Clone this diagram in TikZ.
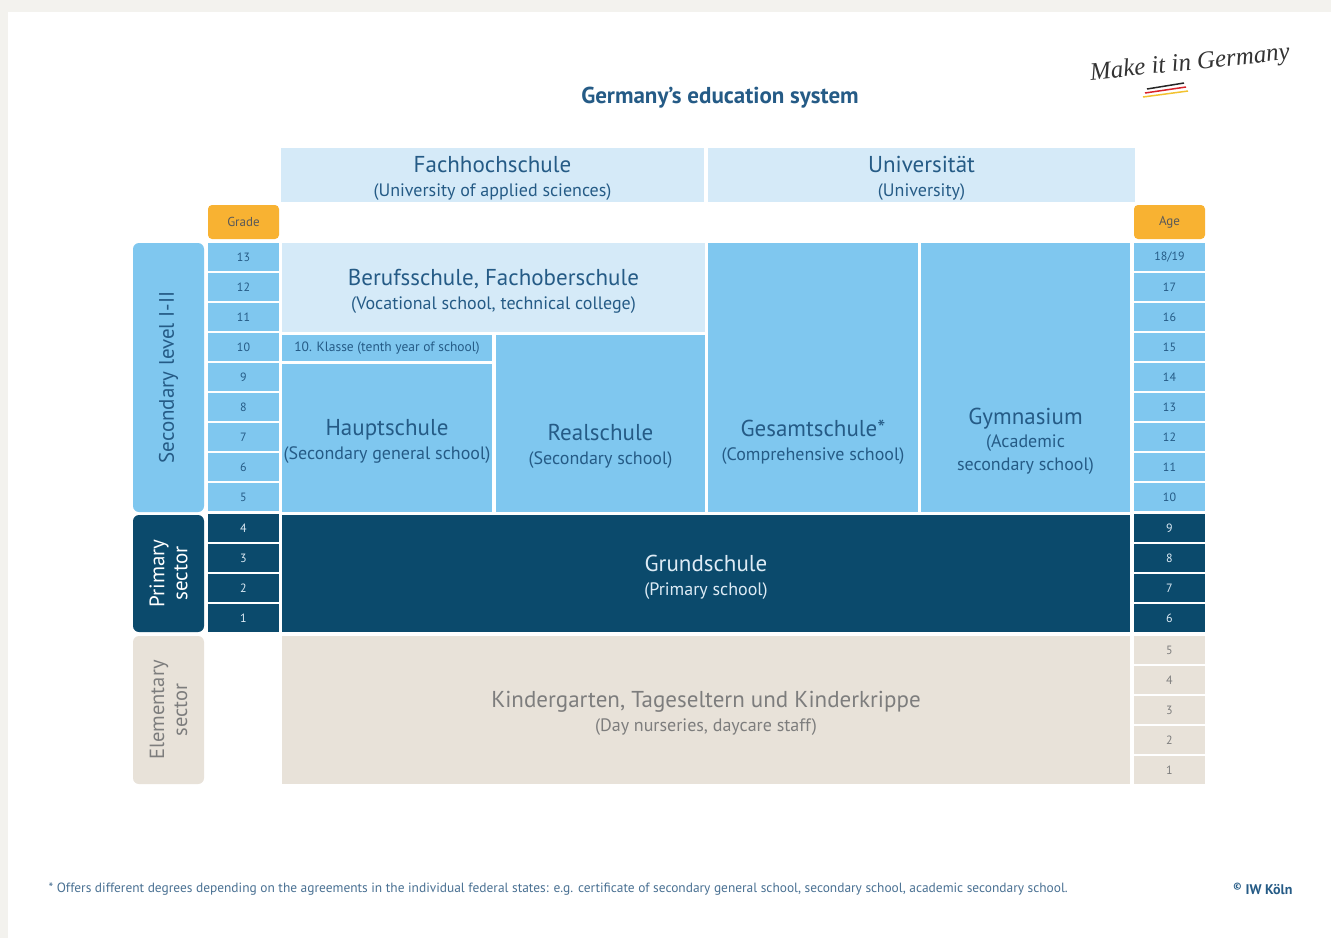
\documentclass[tikz,border=0pt]{standalone}
\usepackage{fontspec}
\setmainfont{PT Sans}
\newfontfamily\handfont{Liberation Serif}
\usepackage{tikz}

\definecolor{bandgray}{HTML}{F3F2EE}
\definecolor{palebox}{HTML}{D5EAF8}
\definecolor{midbox}{HTML}{7FC7EF}
\definecolor{darkbox}{HTML}{0B4A6C}
\definecolor{sandbox}{HTML}{E8E2D9}
\definecolor{headorange}{HTML}{F8B232}
\definecolor{inkblue}{HTML}{255B86}
\definecolor{inkgray}{HTML}{7D7D7D}
\definecolor{inklight}{HTML}{DDEBF5}
\definecolor{footblue}{HTML}{4A7193}
\definecolor{flagred}{HTML}{D8232A}
\definecolor{flaggold}{HTML}{F2C230}

\newcommand{\headtxt}{\fontsize{23}{25}\selectfont\rule{0pt}{23pt}}

\tikzset{
  block/.style={inner sep=0pt, align=center, text=inkblue, font=\fontsize{18}{24}\selectfont},
  cell/.style={minimum width=71pt, minimum height=28pt, inner sep=0pt, font=\fontsize{12}{14}\selectfont},
  seccell/.style={cell, fill=midbox, text=inkblue},
  primcell/.style={cell, fill=darkbox, text=inklight},
  elemcell/.style={cell, fill=sandbox, text=inkgray},
  headcell/.style={cell, fill=headorange, rounded corners=4pt, minimum height=34pt, text=black!65, font=\fontsize{13}{15}\selectfont},
  sector/.style={minimum width=71pt, inner sep=0pt, rounded corners=6pt, align=center}
}

\begin{document}
\begin{tikzpicture}[x=1pt,y=-1pt]

\useasboundingbox (0,0) rectangle (1331,938);
\fill[bandgray] (0,0) rectangle (1331,938);
\fill[white] (8,12) rectangle (1331,938);

%% title and logo
\node[font=\bfseries\fontsize{23}{25}\selectfont, text=inkblue] (title) at (720,98) {Germany's education system};
\node[font=\handfont\itshape\fontsize{25}{27}\selectfont, rotate=6, inner sep=0pt, text=black!80] (logo) at (1190,64) {Make~it~in~Germany};
\draw[line width=1.5pt, black!85] (1147,89) -- (1184,83);
\draw[line width=1.5pt, flagred] (1145,93) -- (1186,87);
\draw[line width=1.5pt, flaggold] (1143,97) -- (1188,91);

%% higher education
\node[block, fill=palebox, minimum width=423pt, minimum height=54pt] (fhs) at (492.5,175)
  {\headtxt Fachhochschule\\(University of applied sciences)};
\node[block, fill=palebox, minimum width=427pt, minimum height=54pt] (uni) at (921.5,175)
  {\headtxt Universität\\(University)};

%% column heads
\node[headcell] (grade) at (243.5,222) {Grade};
\node[headcell] (age) at (1169.5,222) {Age};

%% sectors
\node[sector, fill=midbox, minimum height=269pt] (secondary) at (168.5,377.5) {};
\node[sector, fill=darkbox, minimum height=117pt] (primary) at (168.5,573.5) {};
\node[sector, fill=sandbox, minimum height=148pt] (elementary) at (168.5,710) {};
\node[rotate=90, text=inkblue, font=\fontsize{21}{23}\selectfont] at (secondary) {Secondary level I-II};
\node[rotate=90, text=white, align=center, font=\fontsize{21}{23}\selectfont] at (primary) {Primary\\sector};
\node[rotate=90, text=inkgray, align=center, font=\fontsize{20.5}{23}\selectfont] at (elementary) {Elementary\\sector};

%% grades
\node[seccell] (g13) at (243.5,257) {13};
\node[seccell] (g12) at (243.5,287) {12};
\node[seccell] (g11) at (243.5,317) {11};
\node[seccell] (g10) at (243.5,347) {10};
\node[seccell] (g9) at (243.5,377) {9};
\node[seccell] (g8) at (243.5,407) {8};
\node[seccell] (g7) at (243.5,437) {7};
\node[seccell] (g6) at (243.5,467) {6};
\node[seccell] (g5) at (243.5,497) {5};
\node[primcell] (g4) at (243.5,528) {4};
\node[primcell] (g3) at (243.5,558) {3};
\node[primcell] (g2) at (243.5,588) {2};
\node[primcell] (g1) at (243.5,618) {1};

%% ages
\node[seccell] (a19) at (1169.5,257) {18/19};
\node[seccell] (a17) at (1169.5,287) {17};
\node[seccell] (a16) at (1169.5,317) {16};
\node[seccell] (a15) at (1169.5,347) {15};
\node[seccell] (a14) at (1169.5,377) {14};
\node[seccell] (a13) at (1169.5,407) {13};
\node[seccell] (a12) at (1169.5,437) {12};
\node[seccell] (a11) at (1169.5,467) {11};
\node[seccell] (a10) at (1169.5,497) {10};
\node[primcell] (a9) at (1169.5,528) {9};
\node[primcell] (a8) at (1169.5,558) {8};
\node[primcell] (a7) at (1169.5,588) {7};
\node[primcell] (a6) at (1169.5,618) {6};
\node[elemcell] (a5) at (1169.5,650) {5};
\node[elemcell] (a4) at (1169.5,680) {4};
\node[elemcell] (a3) at (1169.5,710) {3};
\node[elemcell] (a2) at (1169.5,740) {2};
\node[elemcell] (a1) at (1169.5,770) {1};

%% schools
\node[block, fill=palebox, minimum width=423pt, minimum height=89pt] (beruf) at (493.5,287.5)
  {\headtxt Berufsschule, Fachoberschule\\(Vocational school, technical college)};
\node[block, fill=midbox, minimum width=210pt, minimum height=26pt, font=\fontsize{13.5}{15}\selectfont] (klasse) at (387,348)
  {10. Klasse (tenth year of school)};
\node[block, fill=midbox, minimum width=210pt, minimum height=148pt] (haupt) at (387,438)
  {\headtxt Hauptschule\\(Secondary general school)};
\node[block, fill=midbox, minimum width=209pt, minimum height=177pt] (real) at (600.5,423.5) {};
\node[block, fill=midbox, minimum width=210pt, minimum height=269pt] (gesamt) at (813,377.5) {};
\node[block, fill=midbox, minimum width=209pt, minimum height=269pt] (gym) at (1025.5,377.5) {};
\node[block] (real-t) at (600.5,443) {\headtxt Realschule\\(Secondary school)};
\node[block] (gesamt-t) at (813,439) {\headtxt Gesamtschule*\\(Comprehensive school)};
\node[block, font=\fontsize{18}{23}\selectfont] (gym-t) at (1025.5,438) {\headtxt Gymnasium\\(Academic\\secondary school)};
\node[block, fill=darkbox, text=inklight, minimum width=848pt, minimum height=117pt] (grund) at (706,573.5)
  {\headtxt Grundschule\\(Primary school)};
\node[block, fill=sandbox, text=inkgray, minimum width=848pt, minimum height=148pt] (kinder) at (706,710)
  {\headtxt Kindergarten, Tageseltern und Kinderkrippe\\(Day nurseries, daycare staff)};

%% footer
\node[anchor=west, text=footblue, font=\fontsize{13.4}{15}\selectfont] (note) at (45,889)
  {* Offers different degrees depending on the agreements in the individual federal states: e.g. certificate of secondary general school, secondary school, academic secondary school.};
\node[anchor=east, text=inkblue, font=\bfseries\fontsize{14}{16}\selectfont] (iw) at (1296,889) {\textsuperscript{©} IW Köln};

\end{tikzpicture}
\end{document}
